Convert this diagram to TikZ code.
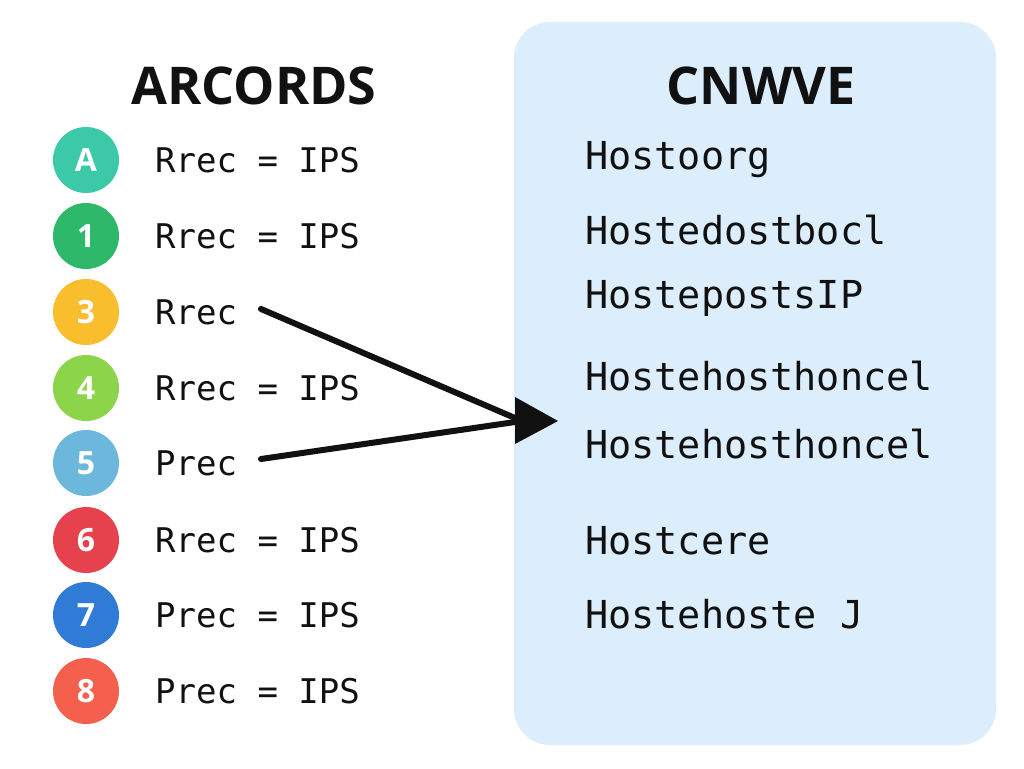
\documentclass[tikz,border=0pt]{standalone}
\usepackage{fontspec}
\setmainfont{Open Sans}
\newfontfamily\monof{DejaVu Sans Mono}
\newfontfamily\titlef{Open Sans}
\usetikzlibrary{positioning}
\definecolor{panel}{HTML}{DCEEFC}
\definecolor{cA}{HTML}{3CC9A8}
\definecolor{cB}{HTML}{2DB86A}
\definecolor{cC}{HTML}{F8BE2E}
\definecolor{cD}{HTML}{8CD44A}
\definecolor{cE}{HTML}{6BB8DC}
\definecolor{cF}{HTML}{E5424D}
\definecolor{cG}{HTML}{2F7BD6}
\definecolor{cH}{HTML}{F5604E}
\definecolor{ink}{HTML}{111111}
\tikzset{
  badge/.style={circle, minimum size=66pt, inner sep=0pt, text=white, font=\fontsize{32}{32}\selectfont\bfseries},
  lefttxt/.style={anchor=west, inner sep=0pt, text=ink, font=\monof\fontsize{34}{34}\selectfont},
  righttxt/.style={anchor=west, inner sep=0pt, text=ink, font=\monof\fontsize{38.5}{38.5}\selectfont},
  ttl/.style={inner sep=0pt, text=ink, font=\titlef\fontsize{52}{52}\selectfont\bfseries},
  conn/.style={line width=6pt, line cap=round, draw=ink}
}
\begin{document}
\begin{tikzpicture}[x=1pt,y=-1pt]
\useasboundingbox (0,0) rectangle (1024,768);
\fill[white] (0,0) rectangle (1024,768);
\fill[panel, rounded corners=36pt] (514,22) rectangle (996,745);
\node[ttl] (tl) at (254,86) {ARCORDS};
\node[ttl] (tr) at (761,86) {CNWVE};
\node[badge, fill=cA] (b1) at (86,160) {A};
\node[badge, fill=cB] (b2) at (86,236) {1};
\node[badge, fill=cC] (b3) at (86,312) {3};
\node[badge, fill=cD] (b4) at (86,388) {4};
\node[badge, fill=cE] (b5) at (86,463) {5};
\node[badge, fill=cF] (b6) at (86,540) {6};
\node[badge, fill=cG] (b7) at (86,615) {7};
\node[badge, fill=cH] (b8) at (86,691) {8};
\node[lefttxt] (l1) at (155,160) {Rrec = IPS};
\node[lefttxt] (l2) at (155,236) {Rrec = IPS};
\node[lefttxt] (l3) at (155,312) {Rrec};
\node[lefttxt] (l4) at (155,388) {Rrec = IPS};
\node[lefttxt] (l5) at (155,463) {Prec};
\node[lefttxt] (l6) at (155,540) {Rrec = IPS};
\node[lefttxt] (l7) at (155,615) {Prec = IPS};
\node[lefttxt] (l8) at (155,691) {Prec = IPS};
\node[righttxt] (r1) at (585,160) {Hostoorg};
\node[righttxt] (r2) at (585,230) {Hostedostbocl};
\node[righttxt] (r3) at (585,298) {HostepostsIP};
\node[righttxt] (r4) at (585,376) {Hostehosthoncel};
\node[righttxt] (r5) at (585,444) {Hostehosthoncel};
\node[righttxt] (r6) at (585,541) {Hostcere};
\node[righttxt] (r7) at (585,614) {Hostehoste J};
\coordinate (s3) at (261,309);
\coordinate (s5) at (261,459);
\coordinate (m) at (522,421);
\draw[conn] (s3) -- (m);
\draw[conn] (s5) -- (m);
\fill[ink] (515,397) -- (558,421) -- (515,444) -- cycle;
\end{tikzpicture}
\end{document}
